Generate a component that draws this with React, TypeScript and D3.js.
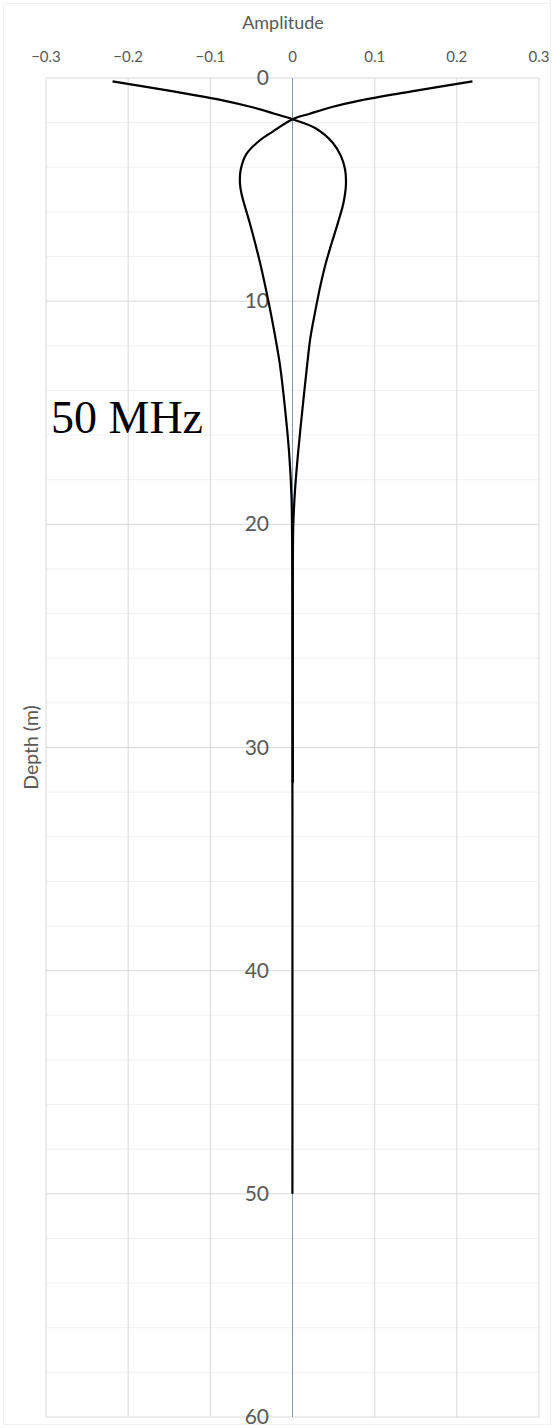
import React from 'react';
import * as d3 from 'd3';

// Axis ticks
const amplitudeTicks = [-0.3, -0.2, -0.1, 0, 0.1, 0.2, 0.3];
const depthTicks = [0, 10, 20, 30, 40, 50, 60];
const minorDepthTicks = [2, 4, 6, 8, 12, 14, 16, 18, 22, 24, 26, 28, 32, 34, 36, 38, 42, 44, 46, 48, 52, 54, 56, 58];

// Trace starting at negative amplitude, swinging into the positive lobe
const depthA = [0.15, 0.6, 1.0, 1.3, 1.6, 1.85, 2.25, 2.9, 3.5, 4.1, 4.8, 5.6, 6.4, 7.3, 8.3, 9.3, 10.2, 11.0, 11.7, 12.8, 14.7, 16.8, 18.5, 20.0, 21.5, 23.5, 31.6];
const ampA = [-0.219, -0.145, -0.085, -0.05, -0.022, 0, 0.028, 0.049, 0.059, 0.064, 0.065, 0.062, 0.056, 0.0485, 0.0405, 0.034, 0.029, 0.0248, 0.0215, 0.018, 0.0125, 0.0068, 0.003, 0.001, 0.0005, 0.0004, 0.0004];

// Trace starting at positive amplitude, swinging into the negative lobe
const depthB = [0.15, 0.6, 1.0, 1.3, 1.6, 1.85, 2.4, 2.8, 3.4, 4.1, 4.7, 5.2, 6.5, 8.2, 9.7, 11.0, 12.8, 14.7, 16.8, 18.8, 20.6, 23.5, 50];
const ampB = [0.219, 0.145, 0.083, 0.048, 0.021, 0, -0.024, -0.04, -0.056, -0.063, -0.064, -0.062, -0.052, -0.04, -0.031, -0.024, -0.0155, -0.0094, -0.0041, -0.0012, -0.0005, -0.0002, -0.0001];

const W = 554;
const H = 1428;
const FONT = "Lato, 'Open Sans', sans-serif";

export default function App() {
  const x = d3.scaleLinear().domain([-0.3, 0.3]).range([46, 539]);
  const y = d3.scaleLinear().domain([0, 60]).range([78, 1417]);

  const line = d3
    .line<[number, number]>()
    .x((d) => x(d[0]))
    .y((d) => y(d[1]))
    .curve(d3.curveCatmullRom.alpha(0.5));

  const seriesA: [number, number][] = depthA.map((d, i) => [ampA[i], d]);
  const seriesB: [number, number][] = depthB.map((d, i) => [ampB[i], d]);

  return (
    <svg
      width={W}
      height={H}
      style={{ position: 'absolute', left: 0, top: 0, background: '#fff' }}
    >
      <rect x={3.5} y={3.5} width={W - 7} height={H - 7} fill="#fff" stroke="#f0f0f0" />

      {/* minor depth gridlines */}
      {minorDepthTicks.map((t) => (
        <line key={'m' + t} x1={x(-0.3)} x2={x(0.3)} y1={y(t)} y2={y(t)} stroke="#f0f0f0" strokeWidth={1} />
      ))}
      {/* major depth gridlines */}
      {depthTicks.map((t) => (
        <line key={'M' + t} x1={x(-0.3)} x2={x(0.3)} y1={y(t)} y2={y(t)} stroke="#d9d9d9" strokeWidth={1} />
      ))}
      {/* amplitude gridlines */}
      {amplitudeTicks.filter((t) => t !== 0).map((t) => (
        <line key={'v' + t} x1={x(t)} x2={x(t)} y1={y(0)} y2={y(60)} stroke="#d9d9d9" strokeWidth={1} />
      ))}
      {/* zero amplitude axis */}
      <line x1={x(0)} x2={x(0)} y1={y(0)} y2={y(60)} stroke="#7f97b0" strokeWidth={1} />

      {/* amplitude tick labels */}
      {amplitudeTicks.map((t) => (
        <text
          key={'tl' + t}
          x={x(t)}
          y={61.5}
          textAnchor="middle"
          fontFamily={FONT}
          fontSize={15}
          fill="#595959"
        >
          {t === 0 ? '0' : d3.format('.1f')(t)}
        </text>
      ))}

      {/* depth tick labels */}
      {depthTicks.map((t) => (
        <text
          key={'dl' + t}
          x={269}
          y={y(t) + 7}
          textAnchor="end"
          fontFamily={FONT}
          fontSize={21}
          fill="#595959"
        >
          {t}
        </text>
      ))}

      {/* axis titles */}
      <text x={283} y={29} textAnchor="middle" fontFamily={FONT} fontSize={18} fill="#595959">
        Amplitude
      </text>
      <text
        transform={`translate(38, ${(y(0) + y(60)) / 2}) rotate(-90)`}
        textAnchor="middle"
        fontFamily={FONT}
        fontSize={19.5}
        fill="#595959"
      >
        Depth (m)
      </text>

      {/* traces */}
      <path d={line(seriesA) ?? ''} fill="none" stroke="#000" strokeWidth={2.2} strokeLinejoin="round" />
      <path d={line(seriesB) ?? ''} fill="none" stroke="#000" strokeWidth={2.2} strokeLinejoin="round" />

      <text x={51} y={433} fontFamily="'Liberation Serif', 'Times New Roman', serif" fontSize={46} fill="#000">
        50 MHz
      </text>
    </svg>
  );
}
